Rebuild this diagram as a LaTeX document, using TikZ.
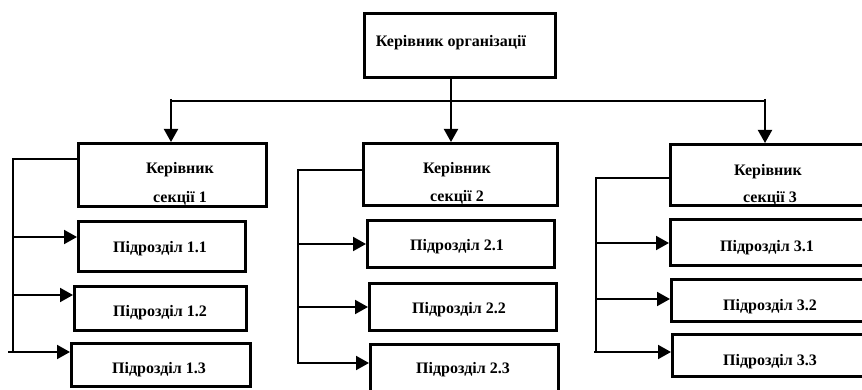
\documentclass[tikz,border=0pt]{standalone}
\usepackage{fontspec}
\setmainfont{Liberation Serif}
\usetikzlibrary{arrows.meta,fit}
\begin{document}
\begin{tikzpicture}[x=1pt,y=-1pt,
  box/.style={draw, line width=3pt, inner sep=0pt},
  lbl/.style={font=\bfseries\fontsize{16}{19}\selectfont, inner sep=0pt},
  conn/.style={line width=2pt},
  arr/.style={conn, -{Triangle[width=14pt,length=13pt]}}]
\clip (0,0) rectangle (862,390);
\fill[white] (0,0) rectangle (862,390);
% boxes
\node[box, fit={(364.5,13.5) (555.5,77.5)}] (top) {};
\node[box, fit={(78.5,143.5) (266.5,206.5)}] (s1) {};
\node[box, fit={(363.5,143.5) (557.5,205.5)}] (s2) {};
\node[box, fit={(670.5,144.5) (870,205.5)}] (s3) {};
\node[box, fit={(78.5,221.5) (245.5,271.5)}] (b11) {};
\node[box, fit={(74.5,286.5) (246.5,330.5)}] (b12) {};
\node[box, fit={(71.5,343.5) (250.5,386.5)}] (b13) {};
\node[box, fit={(367.5,220.5) (554.5,267.5)}] (b21) {};
\node[box, fit={(369.5,283.5) (556.5,330.5)}] (b22) {};
\node[box, fit={(370.5,344.5) (558.5,400)}] (b23) {};
\node[box, fit={(670.5,219.5) (870,265.5)}] (b31) {};
\node[box, fit={(671.5,279.5) (870,321.5)}] (b32) {};
\node[box, fit={(672.5,334.5) (870,376.5)}] (b33) {};
% labels
\node[lbl] (ttop) at (451,43) {Керівник організації};
\node[lbl] (ts1a) at (180,170) {Керівник};
\node[lbl] (ts1b) at (180,198) {секції 1};
\node[lbl] (ts2a) at (457,170) {Керівник};
\node[lbl] (ts2b) at (457,197) {секції 2};
\node[lbl] (ts3a) at (768,172) {Керівник};
\node[lbl] (ts3b) at (770,198) {секції 3};
\node[lbl] (t11) at (160,249) {Підрозділ 1.1};
\node[lbl] (t12) at (160,313) {Підрозділ 1.2};
\node[lbl] (t13) at (159,370) {Підрозділ 1.3};
\node[lbl] (t21) at (457,247) {Підрозділ 2.1};
\node[lbl] (t22) at (459,310) {Підрозділ 2.2};
\node[lbl] (t23) at (463,370) {Підрозділ 2.3};
\node[lbl] (t31) at (767,248) {Підрозділ 3.1};
\node[lbl] (t32) at (770,307) {Підрозділ 3.2};
\node[lbl] (t33) at (770,362) {Підрозділ 3.3};
% top connectors
\coordinate (stem) at (451,79);
\coordinate (busL) at (171,101);
\coordinate (busR) at (765,101);
\coordinate (busLt) at (171,99);
\coordinate (busRt) at (765,99);
\draw[conn] (busL) -- (busR);
\draw[arr] (stem |- top.south) -- (stem |- s2.north);
\draw[arr] (busLt) -- (busL |- s1.north);
\draw[arr] (busRt) -- (busR |- s3.north);
% section 1 bracket
\coordinate (k1) at (13,159);
\coordinate (k1e) at (13,352);
\coordinate (a11) at (13,237);
\coordinate (a12) at (13,295);
\coordinate (a13) at (8,352);
\draw[conn] (k1 -| s1.west) -- (k1) -- (k1e);
\draw[arr] (a11) -- (a11 -| b11.west);
\draw[arr] (a12) -- (a12 -| b12.west);
\draw[arr] (a13) -- (a13 -| b13.west);
% section 2 bracket
\coordinate (k2) at (298,170);
\coordinate (k2e) at (298,363);
\coordinate (a21) at (298,244);
\coordinate (a22) at (298,307);
\coordinate (a23) at (297,363);
\draw[conn] (k2 -| s2.west) -- (k2) -- (k2e);
\draw[arr] (a21) -- (a21 -| b21.west);
\draw[arr] (a22) -- (a22 -| b22.west);
\draw[arr] (a23) -- (a23 -| b23.west);
% section 3 bracket
\coordinate (k3) at (596,178);
\coordinate (k3e) at (596,352);
\coordinate (a31) at (596,243);
\coordinate (a32) at (596,299);
\coordinate (a33) at (594,352);
\draw[conn] (k3 -| s3.west) -- (k3) -- (k3e);
\draw[arr] (a31) -- (a31 -| b31.west);
\draw[arr] (a32) -- (a32 -| b32.west);
\draw[arr] (a33) -- (a33 -| b33.west);
\end{tikzpicture}
\end{document}
